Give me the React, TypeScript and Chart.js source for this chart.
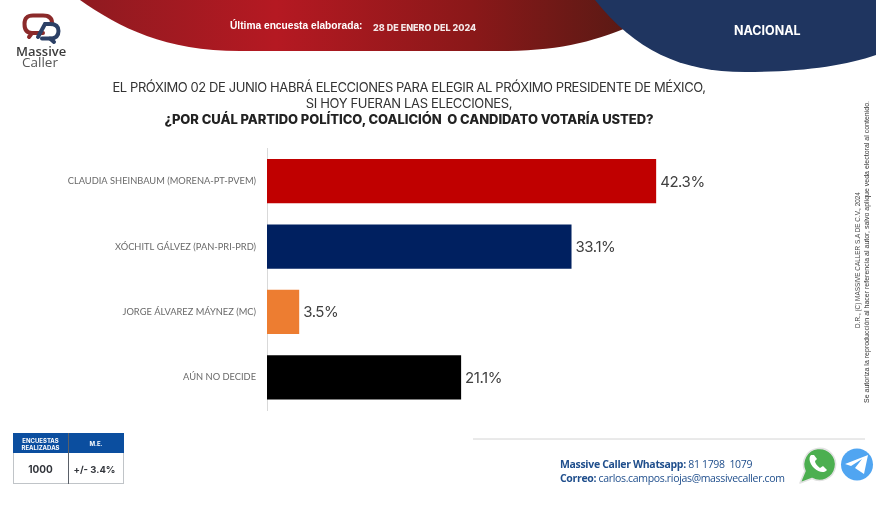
import React, { useEffect, useRef } from "react";
import { Chart, registerables } from "chart.js";

Chart.register(...registerables);

const categories = [
  "CLAUDIA SHEINBAUM (MORENA-PT-PVEM)",
  "XÓCHITL GÁLVEZ (PAN-PRI-PRD)",
  "JORGE ÁLVAREZ MÁYNEZ (MC)",
  "AÚN NO DECIDE",
];
const values = [42.3, 33.1, 3.5, 21.1];
const barColors = ["#c00000", "#002060", "#ed7d31", "#000000"];
const axisMax = 60;

const questionLines = [
  "EL PRÓXIMO 02 DE JUNIO HABRÁ ELECCIONES PARA ELEGIR AL PRÓXIMO PRESIDENTE DE MÉXICO,",
  "SI HOY FUERAN LAS ELECCIONES,",
  "¿POR CUÁL PARTIDO POLÍTICO, COALICIÓN  O CANDIDATO VOTARÍA USTED?",
];

const valueLabels = {
  id: "valueLabels",
  afterDatasetsDraw(chart: any) {
    const { ctx } = chart;
    const meta = chart.getDatasetMeta(0);
    ctx.save();
    ctx.font = "15px Inter, 'Open Sans', sans-serif";
    ctx.letterSpacing = "-0.45px";
    ctx.fillStyle = "#404040";
    ctx.textAlign = "left";
    ctx.textBaseline = "middle";
    meta.data.forEach((bar: any, i: number) => {
      ctx.fillText(values[i].toFixed(1) + "%", bar.x + 4, bar.y + 1);
    });
    ctx.restore();
  },
};

const abs = (x: number, y: number, extra: React.CSSProperties = {}): React.CSSProperties => ({
  position: "absolute",
  left: x,
  top: y,
  whiteSpace: "pre",
  lineHeight: 1,
  ...extra,
});

export default function App() {
  const ref = useRef<HTMLCanvasElement>(null);
  useEffect(() => {
    document.body.style.margin = "0";
    document.body.style.background = "#fff";
    const chart = new Chart(ref.current!, {
      type: "bar",
      plugins: [valueLabels],
      data: {
        labels: categories,
        datasets: [
          {
            data: values,
            backgroundColor: barColors,
            categoryPercentage: 1,
            barPercentage: 0.675,
          },
        ],
      },
      options: {
        indexAxis: "y",
        animation: false,
        responsive: false,
        layout: { padding: { left: 0, top: 148.5, right: 57, bottom: 122 } },
        plugins: { legend: { display: false }, tooltip: { enabled: false }, title: { display: false } },
        scales: {
          x: { display: false, min: 0, max: axisMax },
          y: {
            afterFit(scale: any) {
              scale.width = 267;
            },
            grid: { display: false, drawTicks: false },
            border: { display: true, color: "#d9d9d9", width: 1 },
            ticks: {
              padding: 11,
              color: "#6a6a6a",
              font: { family: "Lato, 'Open Sans', sans-serif", size: 9.3 },
            },
          },
        },
      },
    } as any);
    return () => chart.destroy();
  }, []);

  const hFont = "Inter, 'Open Sans', sans-serif";
  return (
    <div style={{ position: "relative", width: 876, height: 532, overflow: "hidden", background: "#fff" }}>
      <svg width={876} height={532} style={{ position: "absolute", left: 0, top: 0 }}>
        <defs>
          <linearGradient id="redGrad" x1="80" x2="640" y1="0" y2="0" gradientUnits="userSpaceOnUse">
            <stop offset="0" stopColor="#8f1a20" />
            <stop offset="0.35" stopColor="#b51922" />
            <stop offset="0.7" stopColor="#8a1819" />
            <stop offset="1" stopColor="#561a14" />
          </linearGradient>
        </defs>
        <path d="M80 0 C120 28 165 51 240 51 L500 51 C560 51 595 42 640 22 L640 0 Z" fill="url(#redGrad)" />
        <path d="M595 0 C635 50 680 72 745 72 C800 72 845 66 876 55 L876 0 Z" fill="#1f3560" />
        <g fill="none" strokeWidth="4" strokeLinecap="round">
          <path d="M43 33 L32 33 C26 33 24.5 29 24.5 24 C24.5 18 27 15.5 33 15.5 L43 15.5 C49 15.5 52 18 52 23" stroke="#8b2a2a" />
          <path d="M32 33 L29 37" stroke="#8b2a2a" />
          <path d="M38 37 L45 24 L50 24 C56 24 58.5 27 58.5 31 C58.5 36 56 38.5 50 38.5 L42 38.5" stroke="#2c4066" />
          <path d="M50 38.5 L54 42" stroke="#2c4066" />
        </g>
        <line x1="473" x2="865" y1="439" y2="439" stroke="#d4d4d4" strokeWidth="1" />
        <rect x="13.5" y="433.5" width="110" height="50" fill="#fff" stroke="#c0c4c8" />
        <rect x="13" y="433" width="111" height="20" fill="#0b4e9f" />
        <line x1="68.5" x2="68.5" y1="433" y2="484" stroke="#5a6068" />
        <path d="M800 483 L805 471 A16 16 0 1 1 812 478.5 Z" fill="#4caf50" stroke="#e2e2e2" strokeWidth="1.6" strokeLinejoin="round" />
        <path d="M811 455 C808 458 810 464 814 468 C819 473 825 473 827 470 L823 466 L820 468 C817 466 815 463 815 461 L817 459 L814 455 Z" fill="#fff" />
        <circle cx="857" cy="464.5" r="16" fill="#50a5f1" />
        <path d="M845 464 L868 455 L864 474 L855 468 L862 459 L851 466 Z" fill="#fff" />
      </svg>
      <canvas ref={ref} width={876} height={532} style={{ position: "absolute", left: 0, top: 0 }} />

      <div style={abs(16, 42, { font: "600 13px 'Open Sans', sans-serif", color: "#3c3c3c" })}>Massive</div>
      <div style={abs(22, 53, { font: "13.5px 'Open Sans', sans-serif", color: "#555" })}>Caller</div>
      <div style={abs(230, 20, { font: "600 10.2px 'Liberation Sans', sans-serif", color: "#fff" })}>Última encuesta elaborada:</div>
      <div style={abs(373, 22, { font: "800 9px " + hFont, color: "#f4e8e8" })}>28 DE ENERO DEL 2024</div>
      <div style={abs(734, 23, { font: "700 12.5px " + hFont, color: "#fff" })}>NACIONAL</div>

      <div style={abs(0, 79, { width: 818, textAlign: "center", font: "13px " + hFont, letterSpacing: -0.42, color: "#333" })}>{questionLines[0]}</div>
      <div style={abs(0, 95, { width: 818, textAlign: "center", font: "13px " + hFont, letterSpacing: -0.35, color: "#333" })}>{questionLines[1]}</div>
      <div style={abs(0, 111, { width: 818, textAlign: "center", font: "800 13px " + hFont, letterSpacing: -0.05, color: "#222" })}>{questionLines[2]}</div>

      <div style={abs(13, 437, { width: 55, textAlign: "center", font: "700 6px " + hFont, color: "#fff", lineHeight: "8px" })}>{"ENCUESTAS\nREALIZADAS"}</div>
      <div style={abs(68, 440, { width: 56, textAlign: "center", font: "700 6px " + hFont, color: "#fff" })}>M.E.</div>
      <div style={abs(13, 463, { width: 55, textAlign: "center", font: "700 10px " + hFont, color: "#33363c" })}>1000</div>
      <div style={abs(67, 464, { width: 55, textAlign: "center", font: "700 9.5px " + hFont, color: "#33363c" })}>+/- 3.4%</div>

      <div style={abs(560, 457, { font: "10.5px 'Open Sans', sans-serif", color: "#1f4e8c", letterSpacing: -0.33 })}>
        <b>Massive Caller Whatsapp:</b> 81 1798  1079
      </div>
      <div style={abs(560, 471, { font: "10.5px 'Open Sans', sans-serif", color: "#1f4e8c", letterSpacing: -0.33 })}>
        <b>Correo:</b> carlos.campos.riojas@massivecaller.com
      </div>

      <div style={abs(857, 260, { transform: "translate(-50%,-50%) rotate(-90deg)", font: "6.4px 'Liberation Sans', sans-serif", color: "#444" })}>D.R., (C) MASSIVE CALLER S.A DE C.V., 2024</div>
      <div style={abs(866, 252, { transform: "translate(-50%,-50%) rotate(-90deg)", font: "7px 'Liberation Sans', sans-serif", color: "#333" })}>Se autoriza la reproducción al hacer referencia al autor, salvo aplique veda electoral al contenido.</div>
    </div>
  );
}
